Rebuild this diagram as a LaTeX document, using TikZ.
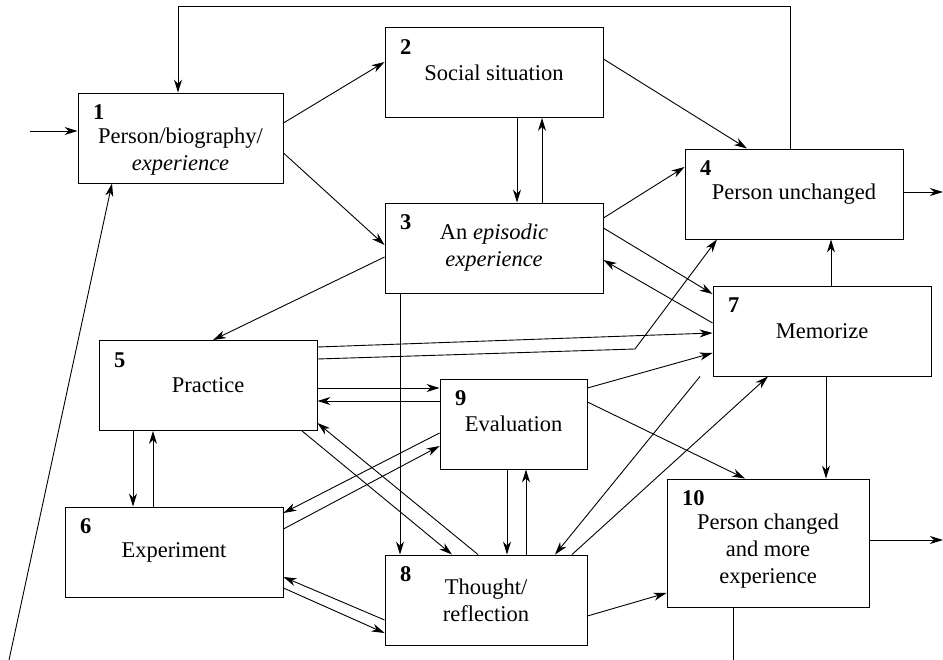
\documentclass[tikz,border=0pt]{standalone}
\usepackage{fontspec}
\setmainfont{Liberation Serif}
\usetikzlibrary{arrows.meta}

\begin{document}
\begin{tikzpicture}[x=1pt,y=-1pt,line width=0.9pt,
  font=\fontsize{22.5}{27}\selectfont,
  box/.style={draw,rectangle,inner sep=0pt,minimum width=#1,minimum height=90pt},
  box/.default=218pt,
  lbl/.style={label={[font=\fontsize{22.5}{27}\selectfont\bfseries,inner sep=0pt,anchor=base west,xshift=15pt,yshift=-27pt]north west:#1}},
  txt/.style={align=center,inner sep=0pt},
  arr/.style={-{Stealth[length=13pt,width=8pt,inset=4pt]}}]
\useasboundingbox (0,0) rectangle (943,660);
% boxes
\node[box=205pt,lbl=1] (p1) at (180.5,138) {};
\node[box,lbl=2] (p2) at (494,72.5) {};
\node[box,lbl=3] (p3) at (494,248) {};
\node[box,lbl=4] (p4) at (794,194) {};
\node[box,lbl=5] (p5) at (208,385.5) {};
\node[box,lbl=6] (p6) at (174,552) {};
\node[box,lbl=7] (p7) at (822,331) {};
\node[box=202pt,lbl=8] (p8) at (486,600) {};
\node[box=147pt,lbl=9] (p9) at (513.5,424) {};
\node[box=202pt,minimum height=128pt,lbl=10] (p10) at (768,543) {};
% texts
\node[txt] (t1) at ([yshift=-13.5pt]p1.center) {Person/biography/\\\textit{experience}};
\node[txt] (t2) at (p2) {Social situation};
\node[txt] (t3) at (p3) {An \textit{episodic}\\\textit{experience}};
\node[txt] (t4) at (p4) {Person unchanged};
\node[txt] (t5) at (p5) {Practice};
\node[txt] (t6) at (p6) {Experiment};
\node[txt] (t7) at (p7) {Memorize};
\node[txt] (t8) at (p8) {Thought/\\reflection};
\node[txt] (t9) at (p9) {Evaluation};
\node[txt] (t10) at ([yshift=-8pt]p10.center) {Person changed\\and more\\experience};
% free ends
\coordinate (in1) at (30,131);
\coordinate (b1) at (9,660);
\coordinate (b10) at (733,660);
\coordinate (o4) at (943,192);
\coordinate (o10) at (943,540);
\coordinate (k) at (635,349);
% connectors
\draw[arr] (in1) -- ([yshift=7pt]p1.west);
\draw[arr] ([xshift=-4pt]p4.north) -- ++(0,-142) -| ([xshift=-2.5pt]p1.north);
\draw[arr] (b1) -- ([xshift=-68.5pt]p1.south);
\draw ([xshift=-35pt]p10.south) -- (b10);
\draw[arr] ([yshift=15pt]p1.east) -- ([yshift=10.5pt]p2.west);
\draw[arr] ([yshift=-15pt]p1.east) -- ([yshift=3pt]p3.west);
\draw[arr] ([yshift=13.5pt]p2.east) -- ([xshift=-47pt]p4.north);
\draw[arr] ([xshift=23pt]p2.south) -- ([xshift=23pt]p3.north);
\draw[arr] ([xshift=48pt]p3.north) -- ([xshift=48pt]p2.south);
\draw[arr] ([yshift=30pt]p3.east) -- ([yshift=27pt]p4.west);
\draw[arr] ([yshift=20pt]p3.east) -- ([yshift=37pt]p7.west);
\draw[arr] ([yshift=8pt]p7.west) -- ([yshift=-12pt]p3.east);
\draw[arr] ([yshift=-9pt]p3.west) -- ([xshift=5pt]p5.north);
\draw[arr] ([xshift=-94pt]p3.south) -- ([xshift=-86pt]p8.north);
\draw[arr] ([yshift=38.5pt]p5.east) -- ([yshift=-2pt]p7.west);
\draw[arr] ([yshift=26.5pt]p5.east) -- (k) -- ([xshift=-77pt]p4.south);
\draw[arr] ([yshift=-2.5pt]p5.east) -- ([yshift=36pt]p9.west);
\draw[arr] ([yshift=23pt]p9.west) -- ([yshift=-15.5pt]p5.east);
\draw[arr] ([xshift=-75pt]p5.south) -- ([xshift=-41pt]p6.north);
\draw[arr] ([xshift=-21pt]p6.north) -- ([xshift=-55pt]p5.south);
\draw[arr] ([xshift=94pt]p5.south) -- ([xshift=-34pt]p8.north);
\draw[arr] ([xshift=-8pt]p8.north) -- ([yshift=-37.5pt]p5.east);
\draw[arr] ([yshift=-9pt]p9.west) -- ([yshift=39pt]p6.east);
\draw[arr] ([yshift=23pt]p6.east) -- ([yshift=-22pt]p9.west);
\draw[arr] ([yshift=-20pt]p8.west) -- ([yshift=-25pt]p6.east);
\draw[arr] ([yshift=-36pt]p6.east) -- ([yshift=-33pt]p8.west);
\draw[arr] ([yshift=36pt]p9.east) -- ([yshift=-22pt]p7.west);
\draw[arr] ([yshift=22pt]p9.east) -- ([xshift=-23pt]p10.north);
\draw[arr] ([xshift=-6.5pt]p9.south) -- ([xshift=21pt]p8.north);
\draw[arr] ([xshift=40pt]p8.north) -- ([xshift=12.5pt]p9.south);
\draw[arr] ([xshift=-122pt]p7.south) -- ([xshift=69pt]p8.north);
\draw[arr] ([xshift=86pt]p8.north) -- ([xshift=-54pt]p7.south);
\draw[arr] ([xshift=4pt]p7.south) -- ([xshift=58pt]p10.north);
\draw[arr] ([xshift=9pt]p7.north) -- ([xshift=37pt]p4.south);
\draw[arr] ([yshift=-16pt]p8.east) -- ([yshift=-50pt]p10.west);
\draw[arr] ([yshift=2pt]p4.east) -- (o4);
\draw[arr] ([yshift=3pt]p10.east) -- (o10);
\end{tikzpicture}
\end{document}
